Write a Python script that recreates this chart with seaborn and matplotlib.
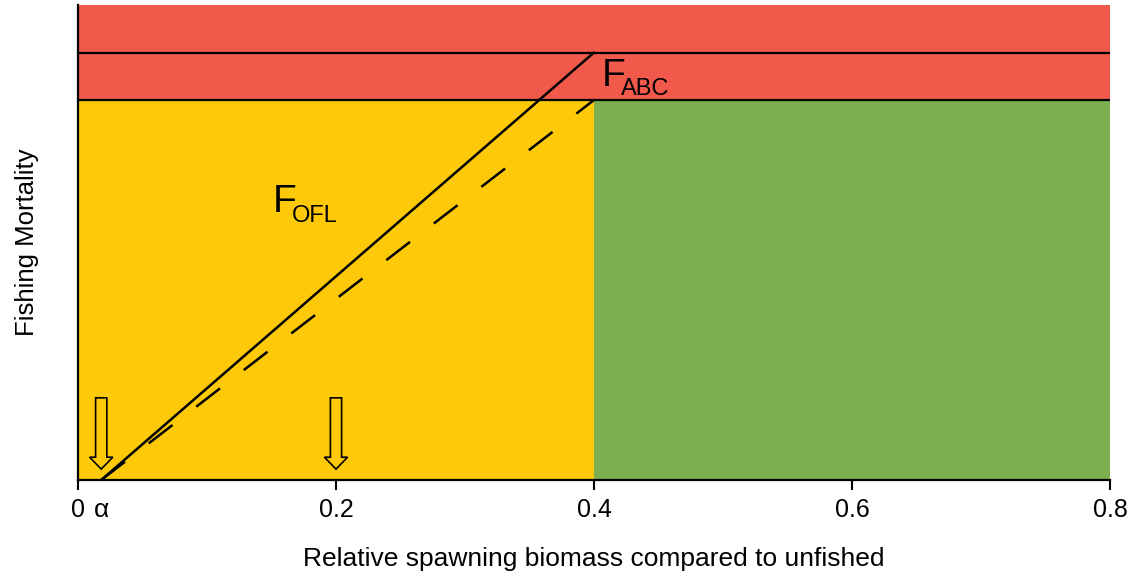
import matplotlib.pyplot as plt
import pandas as pd
import seaborn as sns

sns.set_theme(style="ticks")
plt.rcParams["font.family"] = ["Liberation Sans", "DejaVu Sans"]
plt.rcParams["text.color"] = "black"
plt.rcParams["axes.labelcolor"] = "black"
plt.rcParams["xtick.color"] = "black"

RED = "#F15A4A"
YELLOW = "#FEC908"
GREEN = "#7BAF4F"

# harvest control rule values (relative biomass vs fishing mortality)
alpha = 0.018
b_target = 0.4
x_max = 0.8
f_abc = 0.8
f_ofl = 0.9
y_max = 1.0

rule_x = [alpha, b_target]
ofl_y = [0, f_ofl]
abc_y = [0, f_abc]
arrow_x = [alpha, 0.2]
xticks = [0, 0.2, 0.4, 0.6, 0.8]
xtick_labels = ["0", "0.2", "0.4", "0.6", "0.8"]

rules = pd.DataFrame({
    "biomass": rule_x + rule_x,
    "F": ofl_y + abc_y,
    "rule": ["OFL", "OFL", "ABC", "ABC"],
})

fig = plt.figure(figsize=(11.3, 5.76), dpi=100)
ax = fig.add_axes([78 / 1130, 96 / 576, 1032 / 1130, 475 / 576])

# zones
ax.fill_between([0, b_target], 0, f_abc, color=YELLOW, lw=0, zorder=0)
ax.fill_between([b_target, x_max], 0, f_abc, color=GREEN, lw=0, zorder=0)
ax.fill_between([0, x_max], f_abc, y_max, color=RED, lw=0, zorder=0)
ax.axhline(f_abc, color="black", lw=1.6, zorder=2)
ax.axhline(f_ofl, color="black", lw=1.6, zorder=2)

sns.lineplot(data=rules, x="biomass", y="F", style="rule",
             dashes={"OFL": "", "ABC": (12, 12)}, color="black", lw=1.8,
             legend=False, ax=ax, zorder=3)

for xa in arrow_x:
    ax.arrow(xa, 0.173, 0, -0.150, width=0.0087, head_width=0.018,
             head_length=0.025, length_includes_head=True,
             fc="none", ec="black", lw=1.2, zorder=4)

# F labels with subscripts
ax.text(0.151, 0.564, "F", fontsize=28, va="baseline", ha="left")
ax.annotate("OFL", xy=(0.151, 0.564), xytext=(13.5, -7), textcoords="offset points",
            fontsize=17, va="baseline", ha="left")
ax.text(0.406, 0.829, "F", fontsize=28, va="baseline", ha="left")
ax.annotate("ABC", xy=(0.406, 0.829), xytext=(13.5, -6.5), textcoords="offset points",
            fontsize=17, va="baseline", ha="left")

ax.text(alpha, -0.037, "\u03b1", fontsize=19, ha="center", va="top", clip_on=False)

ax.set_xlim(0, x_max)
ax.set_ylim(0, y_max)
ax.set_xticks(xticks)
ax.set_xticklabels(xtick_labels, fontsize=18)
ax.set_yticks([])
ax.tick_params(axis="x", length=7, width=1.5, pad=6, color="black")
ax.spines[["top", "right"]].set_visible(False)
ax.spines[["left", "bottom"]].set_linewidth(1.6)
ax.spines[["left", "bottom"]].set_color("black")
ax.spines[["left", "bottom"]].set_zorder(5)
ax.set_xlabel("Relative spawning biomass compared to unfished", fontsize=19, labelpad=18)
ax.set_ylabel("Fishing Mortality", fontsize=18.5, labelpad=28)

plt.savefig("out.png", dpi=100)
